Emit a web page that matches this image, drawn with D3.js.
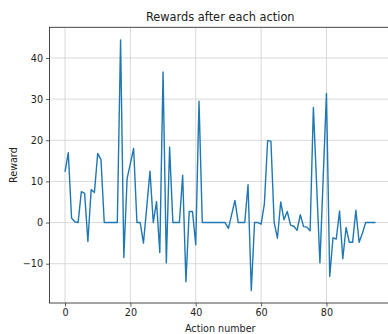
<!DOCTYPE html>
<html>
<head>
<meta charset="utf-8">
<script src="https://cdn.jsdelivr.net/npm/d3@7"></script>
<style>
  html, body { margin: 0; padding: 0; background: #fff; }
  svg { display: block; font-family: 'DejaVu Sans', sans-serif; }
</style>
</head>
<body>
<svg id="chart" width="388" height="334"></svg>
<script>
// reward per action
const rewards = [
  12.3, 17.0, 1.1, 0.2, 0, 7.5, 7.1, -4.6, 8.0, 7.3,
  16.8, 15.3, 0, 0, 0, 0, 0, 44.4, -8.5, 10.7,
  14.4, 18.0, 0, 0, -5.0, 3.7, 12.5, 0, 5.1, -7.3,
  36.6, -9.8, 18.3, 0, 0, 0, 11.5, -14.4, 2.7, 2.7,
  -5.4, 29.5, 0, 0, 0, 0, 0, 0, 0, 0,
  -1.4, 2.0, 5.4, 0, 0, 0, 9.2, -16.5, 0, 0,
  -0.4, 4.5, 19.9, 19.8, 0, -3.8, 5.0, 0.7, 2.7, -0.6,
  -0.9, -1.9, 1.9, -1.0, -1.1, -2.0, 28.0, 9.0, -9.8, 10.8,
  31.4, -13.1, -3.7, -4.0, 2.8, -8.8, -1.2, -4.8, -4.8, 3.0,
  -4.8, -2.6, 0, 0, 0, 0
];
const xTicks = [0, 20, 40, 60, 80];
const yTicks = [-10, 0, 10, 20, 30, 40];
const title = 'Rewards after each action';
const xLabel = 'Action number';
const yLabel = 'Reward';

const svg = d3.select('#chart');
const axLeft = 49.5, axRight = 391, axTop = 27.3, axBottom = 303;

// matplotlib style 5% margins around the data
const n = rewards.length;
const xPad = (n - 1) * 0.05;
const yMin = d3.min(rewards), yMax = d3.max(rewards);
const yPad = (yMax - yMin) * 0.05;

const x = d3.scaleLinear().domain([-xPad, n - 1 + xPad]).range([axLeft, axRight]);
const y = d3.scaleLinear().domain([yMin - yPad, yMax + yPad]).range([axBottom, axTop]);

const grid = svg.append('g');
grid.selectAll('.gx')
  .data(xTicks)
  .enter().append('line')
  .attr('x1', d => x(d)).attr('x2', d => x(d))
  .attr('y1', axTop).attr('y2', axBottom)
  .style('stroke', '#cfcfcf')
  .style('stroke-width', 0.8);
grid.selectAll('.gy')
  .data(yTicks)
  .enter().append('line')
  .attr('x1', axLeft).attr('x2', axRight)
  .attr('y1', d => y(d)).attr('y2', d => y(d))
  .style('stroke', '#cfcfcf')
  .style('stroke-width', 0.8);

const line = d3.line()
  .x((d, i) => x(i))
  .y(d => y(d));

svg.append('path')
  .datum(rewards)
  .attr('d', line)
  .style('fill', 'none')
  .style('stroke', '#1f77b4')
  .style('stroke-width', 1.4)
  .style('stroke-linejoin', 'round');

const xAxis = svg.append('g')
  .attr('transform', 'translate(0,' + axBottom + ')')
  .call(d3.axisBottom(x).tickValues(xTicks).tickSize(3.5).tickPadding(3).tickFormat(d3.format('d')));
const yAxis = svg.append('g')
  .attr('transform', 'translate(' + axLeft + ',0)')
  .call(d3.axisLeft(y).tickValues(yTicks).tickSize(3.5).tickPadding(3)
    .tickFormat(d => d < 0 ? '\u2212' + Math.abs(d) : d));

[xAxis, yAxis].forEach(a => {
  a.select('.domain').remove();
  a.selectAll('line').style('stroke', '#333').style('stroke-width', 0.8);
  a.selectAll('text')
    .style('font-family', "'DejaVu Sans', sans-serif")
    .style('font-size', '9.6px')
    .style('fill', '#222');
});

// spines (right one falls off the canvas like the reference)
svg.append('rect')
  .attr('x', axLeft).attr('y', axTop)
  .attr('width', axRight - axLeft).attr('height', axBottom - axTop)
  .style('fill', 'none')
  .style('stroke', '#333')
  .style('stroke-width', 0.9);

svg.append('text')
  .attr('x', (axLeft + axRight) / 2)
  .attr('y', 20.5)
  .attr('text-anchor', 'middle')
  .style('font-size', '11.4px')
  .style('fill', '#222')
  .text(title);

svg.append('text')
  .attr('x', (axLeft + axRight) / 2)
  .attr('y', 332)
  .attr('text-anchor', 'middle')
  .style('font-size', '9.6px')
  .style('fill', '#222')
  .text(xLabel);

svg.append('text')
  .attr('transform', 'translate(16.5,' + ((axTop + axBottom) / 2) + ') rotate(-90)')
  .attr('text-anchor', 'middle')
  .style('font-size', '9.6px')
  .style('fill', '#222')
  .text(yLabel);
</script>
</body>
</html>
